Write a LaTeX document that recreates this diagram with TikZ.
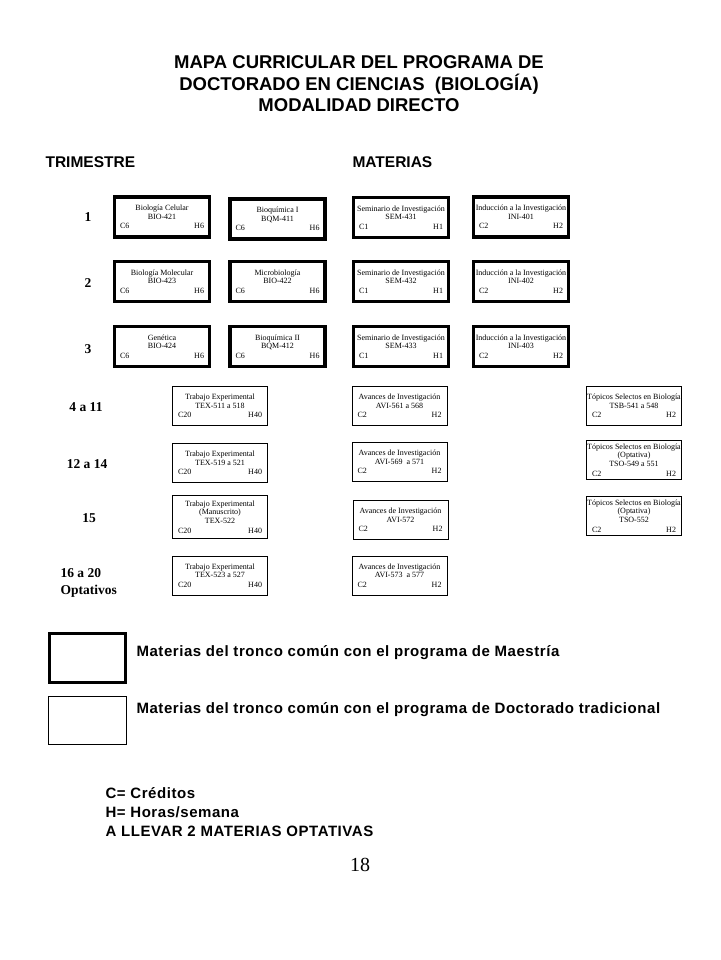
\documentclass[tikz,border=0pt]{standalone}
\usepackage{fontspec}
\setmainfont{Liberation Serif}
\newfontfamily\arialfont{Liberation Sans}
\newfontfamily\arialwide[LetterSpace=3.7]{Liberation Sans}
\usepackage{tikz}
\usetikzlibrary{calc}
\tikzstyle{thickbox}=[rectangle,draw=black,fill=white,line width=3.5pt,
                      minimum width=95pt,minimum height=40pt,inner sep=0.5pt,
                      font=\fontsize{8}{8.7}\selectfont]
\tikzstyle{thinbox}=[rectangle,draw=black,fill=white,line width=1pt,
                     minimum width=95pt,minimum height=39pt,inner sep=0.5pt,
                     font=\fontsize{8}{8.7}\selectfont]
\tikzstyle{rowlabel}=[font=\fontsize{13.5}{16}\selectfont\bfseries]
\tikzstyle{heading}=[font=\arialfont\bfseries\fontsize{15.5}{18}\selectfont]
\tikzstyle{legendtext}=[anchor=west,font=\arialwide\bfseries\fontsize{15}{18.7}\selectfont]
\newcommand\matlabel[3]{\parbox{94pt}{\centering #1\\[1pt] \hspace*{5pt}#2\hfill #3\hspace*{5pt}}}
\newcommand\colA{162}
\newcommand\colB{277.5}
\newcommand\colC{401}
\newcommand\colD{521}

\begin{document}
\begin{tikzpicture}[x=1pt,y=-1pt]
    \useasboundingbox (0,0) rectangle (720,960);
    \node [font=\arialfont\bfseries\fontsize{18.5}{21.5}\selectfont,align=center] (title) at (359,84) {
        MAPA CURRICULAR DEL PROGRAMA DE\\
        DOCTORADO EN CIENCIAS \ (BIOLOGÍA)\\
        MODALIDAD DIRECTO
    };
    \node [heading,anchor=west] (trim) at (42,162) {TRIMESTRE};
    \node [heading,anchor=west] (mat) at (349,162) {MATERIAS};

    \node [rowlabel] (r1) at (88,217) {1};
    \node [rowlabel] (r2) at (88,283) {2};
    \node [rowlabel] (r3) at (88,349) {3};
    \node [rowlabel] (r4) at (86,407) {4 a 11};
    \node [rowlabel] (r5) at (87,464) {12 a 14};
    \node [rowlabel] (r6) at (89,518) {15};
    \node [rowlabel,anchor=west,align=left,font=\fontsize{13.5}{17}\selectfont\bfseries] (r7) at (57,583) {16 a 20\\Optativos};

    \node [thickbox] (bio421) at (\colA,217) {
        \matlabel{Biología Celular\\BIO-421}{C6}{H6}
    };
    \node [thickbox] (bqm411) at (\colB,219) {
        \matlabel{Bioquímica I\\BQM-411}{C6}{H6}
    };
    \node [thickbox] (sem431) at (\colC,217.5) {
        \matlabel{Seminario de Investigación\\SEM-431}{C1}{H1}
    };
    \node [thickbox] (ini401) at (\colD,217) {
        \matlabel{Inducción a la Investigación\\INI-401}{C2}{H2}
    };

    \node [thickbox] (bio423) at (\colA,281.5) {
        \matlabel{Biología Molecular\\BIO-423}{C6}{H6}
    };
    \node [thickbox] (bio422) at (\colB,281.5) {
        \matlabel{Microbiología\\BIO-422}{C6}{H6}
    };
    \node [thickbox] (sem432) at (\colC,281.5) {
        \matlabel{Seminario de Investigación\\SEM-432}{C1}{H1}
    };
    \node [thickbox] (ini402) at (\colD,281.5) {
        \matlabel{Inducción a la Investigación\\INI-402}{C2}{H2}
    };

    \node [thickbox] (bio424) at (\colA,346.5) {
        \matlabel{Genética\\BIO-424}{C6}{H6}
    };
    \node [thickbox] (bqm412) at (\colB,346.5) {
        \matlabel{Bioquímica II\\BQM-412}{C6}{H6}
    };
    \node [thickbox] (sem433) at (\colC,346.5) {
        \matlabel{Seminario de Investigación\\SEM-433}{C1}{H1}
    };
    \node [thickbox] (ini403) at (\colD,346.5) {
        \matlabel{Inducción a la Investigación\\INI-403}{C2}{H2}
    };

    \node [thinbox] (tex511) at (220,406) {
        \matlabel{Trabajo Experimental\\TEX-511 a 518}{C20}{H40}
    };
    \node [thinbox] (tex519) at (220,463) {
        \matlabel{Trabajo Experimental\\TEX-519 a 521}{C20}{H40}
    };
    \node [thinbox,minimum height=43pt] (tex522) at (220,517) {
        \matlabel{Trabajo Experimental\\(Manuscrito)\\TEX-522}{C20}{H40}
    };
    \node [thinbox] (tex523) at (220,575.5) {
        \matlabel{Trabajo Experimental\\TEX-523 a 527}{C20}{H40}
    };

    \node [thinbox] (avi561) at (399.5,406) {
        \matlabel{Avances de Investigación\\AVI-561 a 568}{C2}{H2}
    };
    \node [thinbox] (avi569) at (399.5,462) {
        \matlabel{Avances de Investigación\\AVI-569 \ a 571}{C2}{H2}
    };
    \node [thinbox] (avi572) at (400.5,520) {
        \matlabel{Avances de Investigación\\AVI-572}{C2}{H2}
    };
    \node [thinbox] (avi573) at (399.5,575.5) {
        \matlabel{Avances de Investigación\\AVI-573 \ a 577}{C2}{H2}
    };

    \node [thinbox] (tsb541) at (634,406) {
        \matlabel{Tópicos Selectos en Biología\\TSB-541 a 548}{C2}{H2}
    };
    \node [thinbox] (tso549) at (634,460) {
        \matlabel{Tópicos Selectos en Biología\\(Optativa)\\TSO-549 a 551}{C2}{H2}
    };
    \node [thinbox] (tso552) at (634,516) {
        \matlabel{Tópicos Selectos en Biología\\(Optativa)\\TSO-552}{C2}{H2}
    };

    \node [thickbox,line width=3pt,minimum width=76pt,minimum height=49pt] (keymae) at (87.5,658) {};
    \node [thinbox,minimum width=78pt,minimum height=48pt] (keydoc) at (87.5,720.5) {};
    \node [legendtext] (txtmae) at (133,653) {Materias del tronco común con el programa de Maestría};
    \node [legendtext] (txtdoc) at (133,710) {Materias del tronco común con el programa de Doctorado tradicional};

    \node [legendtext,align=left] (notas) at (102,812) {
        C= Créditos\\
        H= Horas/semana\\
        A LLEVAR 2 MATERIAS OPTATIVAS
    };
    \node [font=\fontsize{20}{22}\selectfont] (pagina) at (360,865) {18};
\end{tikzpicture}
\end{document}
